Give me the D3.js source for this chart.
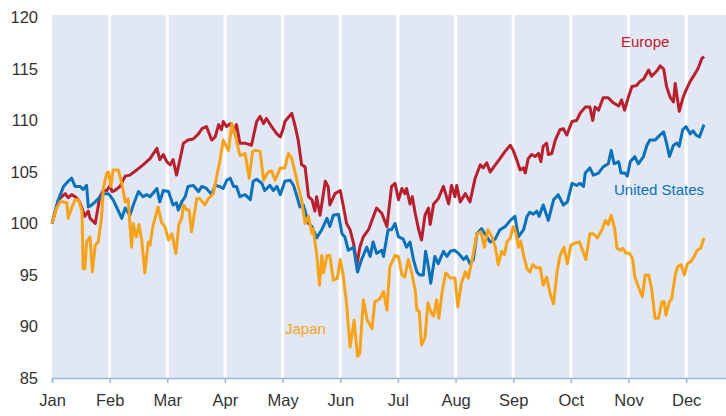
<!DOCTYPE html>
<html>
<head>
<meta charset="utf-8">
<script src="https://cdn.jsdelivr.net/npm/d3@7"></script>
<style>
  body { margin: 0; background: #fff; }
  svg { display: block; font-family: "Liberation Sans", Arial, sans-serif; }
</style>
</head>
<body>
<script>
// month labels, one per tick
const months = ["Jan", "Feb", "Mar", "Apr", "May", "Jun", "Jul", "Aug", "Sep", "Oct", "Nov", "Dec"];
const yTicks = [85, 90, 95, 100, 105, 110, 115, 120];

// [time in months since Jan 1, index value]
const europe = [
  [0,100],[0.11,102.3],[0.23,102.9],[0.28,102.5],[0.34,102.8],[0.40,102.6],[0.46,102.3],[0.52,101.5],
  [0.57,100.7],[0.63,101.2],[0.66,100.5],[0.75,100.0],[0.83,102.6],[0.89,103.2],[0.95,103.2],[1.01,103.7],
  [1.04,103.1],[1.09,103.2],[1.18,103.6],[1.27,104.6],[1.35,104.7],[1.47,105.2],[1.58,105.7],[1.70,106.3],
  [1.82,107.3],[1.87,106.2],[1.93,106.7],[1.99,106.0],[2.05,105.7],[2.10,106.2],[2.16,104.7],[2.22,106.2],
  [2.28,107.8],[2.36,108.1],[2.45,108.2],[2.54,108.7],[2.60,109.2],[2.68,109.4],[2.77,108.1],[2.83,108.4],
  [2.89,109.6],[2.94,109.1],[2.97,109.9],[3.03,109.4],[3.09,109.7],[3.15,108.9],[3.20,109.6],[3.26,107.8],
  [3.35,107.8],[3.46,107.6],[3.55,109.9],[3.61,110.4],[3.67,109.7],[3.72,110.2],[3.81,109.4],[3.90,108.7],
  [3.96,108.4],[4.01,109.2],[4.04,109.9],[4.16,110.7],[4.22,109.4],[4.27,108.1],[4.33,105.7],[4.39,105.5],
  [4.45,102.6],[4.51,102.3],[4.56,101.2],[4.59,102.6],[4.65,100.8],[4.74,104.1],[4.79,103.6],[4.82,101.8],
  [4.91,102.9],[5.00,103.2],[5.05,101.8],[5.11,100.0],[5.17,99.4],[5.23,98.1],[5.29,96.0],[5.34,97.7],
  [5.40,98.7],[5.49,99.4],[5.63,101.5],[5.72,101.0],[5.81,99.7],[5.89,103.6],[5.95,103.9],[6.01,102.3],
  [6.07,103.4],[6.12,102.9],[6.15,103.4],[6.21,101.9],[6.25,102.6],[6.30,101.0],[6.36,99.4],[6.41,98.4],
  [6.47,100.8],[6.53,101.5],[6.56,99.9],[6.62,101.9],[6.70,102.4],[6.79,103.6],[6.88,101.9],[6.93,103.7],
  [6.99,102.6],[7.02,103.7],[7.08,102.1],[7.17,102.9],[7.25,102.1],[7.34,104.4],[7.43,105.7],[7.48,105.4],
  [7.54,105.9],[7.60,105.0],[7.69,105.7],[7.77,106.3],[7.86,107.0],[7.95,107.6],[8.00,107.1],[8.06,106.2],
  [8.12,105.2],[8.18,105.4],[8.21,104.9],[8.26,106.3],[8.32,106.7],[8.38,106.5],[8.44,106.8],[8.48,106.0],
  [8.52,107.5],[8.58,107.8],[8.61,106.7],[8.67,106.8],[8.73,108.1],[8.81,109.1],[8.87,109.2],[8.93,108.6],
  [9.02,109.9],[9.10,110.0],[9.16,110.7],[9.25,111.3],[9.33,111.3],[9.38,110.0],[9.42,111.3],[9.48,111.0],
  [9.56,112.2],[9.65,112.2],[9.74,111.7],[9.83,111.4],[9.88,112.0],[9.93,111.0],[10.00,112.3],[10.06,113.3],
  [10.14,113.4],[10.20,113.8],[10.26,114.0],[10.29,114.3],[10.35,114.9],[10.40,114.3],[10.49,114.8],[10.55,115.3],
  [10.61,115.0],[10.66,113.3],[10.72,112.3],[10.78,111.8],[10.81,113.6],[10.88,110.9],[10.95,112.3],[11.01,113.1],
  [11.07,113.8],[11.16,114.6],[11.21,115.1],[11.27,116.0],[11.31,116.2]
];

const unitedStates = [
  [0,100],[0.11,102.3],[0.20,103.6],[0.28,104.1],[0.34,104.4],[0.40,103.6],[0.49,103.6],[0.54,103.3],
  [0.60,103.7],[0.63,101.6],[0.69,101.8],[0.75,102.1],[0.89,102.9],[0.98,102.9],[1.06,102.3],[1.12,101.6],
  [1.21,100.5],[1.27,101.5],[1.35,100.8],[1.41,101.8],[1.50,103.1],[1.58,102.6],[1.64,102.8],[1.70,102.6],
  [1.82,103.4],[1.87,102.1],[1.93,103.2],[2.02,103.1],[2.10,101.8],[2.16,102.0],[2.19,101.3],[2.25,102.1],
  [2.31,102.6],[2.36,103.6],[2.45,103.7],[2.54,103.1],[2.60,103.6],[2.68,103.4],[2.77,102.8],[2.83,103.7],
  [2.91,103.6],[2.97,103.4],[3.03,104.2],[3.09,104.4],[3.15,103.6],[3.20,103.6],[3.26,102.6],[3.35,102.8],
  [3.44,102.3],[3.49,104.1],[3.55,104.3],[3.64,103.9],[3.69,103.2],[3.78,103.7],[3.84,103.2],[3.90,103.6],
  [3.96,102.8],[4.04,104.1],[4.13,104.2],[4.19,103.7],[4.25,102.6],[4.30,101.6],[4.36,101.8],[4.45,100.0],
  [4.51,99.7],[4.59,98.6],[4.68,99.4],[4.77,100.5],[4.82,99.7],[4.88,100.8],[4.97,100.9],[5.03,99.0],
  [5.08,98.7],[5.14,97.4],[5.23,97.7],[5.30,95.3],[5.37,96.5],[5.46,97.7],[5.52,96.8],[5.57,98.2],
  [5.63,97.1],[5.72,97.4],[5.75,96.8],[5.83,99.4],[5.89,99.4],[5.95,100.0],[6.01,98.7],[6.09,98.5],
  [6.15,97.7],[6.21,98.2],[6.27,96.5],[6.33,95.3],[6.38,95.0],[6.44,95.0],[6.48,97.3],[6.53,95.8],
  [6.57,94.2],[6.64,96.8],[6.70,96.1],[6.79,97.3],[6.85,96.8],[6.91,97.3],[6.98,97.4],[7.05,97.1],
  [7.14,96.5],[7.19,96.8],[7.25,96.1],[7.31,96.5],[7.37,99.0],[7.45,99.5],[7.51,99.0],[7.60,98.2],
  [7.69,98.5],[7.77,99.4],[7.86,99.7],[7.95,100.3],[8.03,100.7],[8.09,98.7],[8.18,99.4],[8.24,100.7],
  [8.29,101.1],[8.35,100.9],[8.41,101.2],[8.45,100.7],[8.52,101.8],[8.61,100.3],[8.70,102.3],[8.78,102.8],
  [8.87,101.8],[8.94,102.1],[9.02,103.9],[9.10,103.7],[9.16,103.9],[9.22,103.6],[9.25,104.9],[9.33,105.4],
  [9.39,104.7],[9.48,104.9],[9.56,105.5],[9.65,105.8],[9.70,107.1],[9.75,105.8],[9.83,106.0],[9.87,104.9],
  [9.94,104.9],[9.98,104.6],[10.03,106.0],[10.11,106.5],[10.17,105.8],[10.26,106.5],[10.32,107.6],[10.37,108.1],
  [10.46,108.1],[10.55,108.6],[10.61,108.9],[10.66,107.8],[10.71,106.5],[10.78,107.6],[10.84,107.8],[10.88,107.5],
  [10.94,109.1],[11.00,109.4],[11.07,108.7],[11.12,109.0],[11.17,108.6],[11.23,108.4],[11.27,109.0],[11.31,109.6]
];

const japan = [
  [0,100],[0.08,101.5],[0.14,102.1],[0.20,102.1],[0.26,102.0],[0.28,100.5],[0.34,101.5],[0.40,102.3],
  [0.46,102.3],[0.52,101.2],[0.54,95.6],[0.57,95.6],[0.60,98.2],[0.66,98.7],[0.70,95.3],[0.75,97.9],
  [0.80,98.2],[0.86,100.6],[0.89,103.4],[0.95,104.9],[0.98,105.0],[1.02,103.6],[1.06,105.2],[1.15,105.2],
  [1.21,103.9],[1.27,102.1],[1.32,102.4],[1.38,97.7],[1.41,100.0],[1.46,98.7],[1.51,99.9],[1.56,98.2],
  [1.61,95.2],[1.67,98.2],[1.70,97.9],[1.75,99.7],[1.80,100.8],[1.84,101.6],[1.90,100.1],[1.96,99.7],
  [2.02,98.4],[2.08,99.0],[2.15,97.1],[2.20,99.9],[2.25,100.5],[2.28,101.8],[2.34,101.3],[2.38,101.3],
  [2.42,99.2],[2.51,102.4],[2.57,102.4],[2.65,101.8],[2.71,102.4],[2.80,102.9],[2.86,104.7],[2.91,106.0],
  [2.97,108.1],[3.06,107.1],[3.12,109.7],[3.19,108.3],[3.26,106.6],[3.35,106.8],[3.42,104.4],[3.48,107.0],
  [3.53,107.1],[3.61,107.0],[3.67,104.2],[3.75,105.0],[3.81,105.1],[3.87,104.2],[3.96,105.4],[4.04,105.4],
  [4.10,106.8],[4.16,106.3],[4.22,104.9],[4.27,103.6],[4.33,102.3],[4.39,100.0],[4.45,100.7],[4.51,99.0],
  [4.53,99.5],[4.59,97.1],[4.64,94.0],[4.68,96.9],[4.71,95.2],[4.77,96.9],[4.82,96.9],[4.88,94.5],
  [4.95,94.7],[5.00,96.5],[5.05,95.0],[5.11,92.2],[5.17,88.0],[5.24,90.6],[5.30,87.1],[5.34,87.4],
  [5.40,92.6],[5.47,90.6],[5.55,89.8],[5.60,92.4],[5.69,92.7],[5.75,93.4],[5.81,91.6],[5.86,95.8],
  [5.95,96.9],[6.01,96.8],[6.07,95.0],[6.12,94.8],[6.18,96.5],[6.24,95.2],[6.30,93.5],[6.33,91.6],
  [6.37,91.5],[6.41,88.2],[6.47,88.9],[6.52,92.3],[6.58,91.3],[6.62,91.0],[6.67,92.6],[6.71,90.8],
  [6.77,93.5],[6.83,95.2],[6.91,94.7],[6.99,94.7],[7.04,91.9],[7.10,94.2],[7.17,95.3],[7.22,94.7],
  [7.29,96.5],[7.37,99.0],[7.44,99.2],[7.50,97.7],[7.56,99.4],[7.63,98.7],[7.69,97.7],[7.74,96.0],
  [7.80,97.3],[7.85,97.0],[7.89,98.2],[7.95,98.6],[8.00,99.7],[8.05,99.0],[8.09,97.7],[8.13,98.3],
  [8.18,96.9],[8.24,95.6],[8.29,95.3],[8.34,96.0],[8.40,95.7],[8.47,95.7],[8.52,94.0],[8.58,94.8],
  [8.64,93.2],[8.70,92.2],[8.76,95.3],[8.81,96.8],[8.88,97.7],[8.94,96.1],[9.00,97.9],[9.07,98.1],
  [9.15,98.2],[9.21,97.3],[9.26,96.5],[9.33,99.0],[9.39,99.0],[9.46,98.6],[9.54,99.4],[9.60,100.3],
  [9.65,99.9],[9.70,100.8],[9.76,99.5],[9.80,97.6],[9.86,97.4],[9.90,97.6],[9.96,97.1],[10.02,97.1],
  [10.07,96.6],[10.11,94.8],[10.17,93.9],[10.24,92.9],[10.29,95.0],[10.35,95.0],[10.40,93.7],[10.46,90.8],
  [10.52,90.8],[10.58,92.4],[10.62,92.4],[10.65,91.1],[10.71,92.4],[10.75,92.7],[10.81,95.0],[10.85,95.8],
  [10.91,96.0],[10.97,95.0],[11.02,96.1],[11.08,96.3],[11.14,96.8],[11.19,97.4],[11.25,97.6],[11.31,98.6]
];

const series = [
  { name: "Europe", data: europe, color: "#b8202e", label: [621, 47] },
  { name: "United States", data: unitedStates, color: "#0b71b9", label: [614, 195] },
  { name: "Japan", data: japan, color: "#f7a21b", label: [285, 334] }
];

const width = 726;
const height = 416;
const margin = { top: 15, right: 0, bottom: 38, left: 52 };

const svg = d3.select("body")
  .append("svg")
  .attr("width", width)
  .attr("height", height);

const x = d3.scaleLinear().domain([0, 12]).range([52, 52 + 12 * 57.65]);
const y = d3.scaleLinear().domain([85, 120]).range([378, 17.5]);

// plot background
svg.append("rect")
  .attr("x", margin.left)
  .attr("y", margin.top)
  .attr("width", width - margin.left)
  .attr("height", 378 - margin.top)
  .attr("fill", "#e1e8f3");

// white month grid lines
svg.append("g")
  .selectAll("line")
  .data(d3.range(1, 12))
  .join("line")
  .attr("x1", (d) => x(d))
  .attr("x2", (d) => x(d))
  .attr("y1", margin.top)
  .attr("y2", 378)
  .attr("stroke", "#fff")
  .attr("stroke-width", 3);

// x axis
const xAxis = d3.axisBottom(x)
  .tickValues(d3.range(0, 12))
  .tickFormat((d) => months[d])
  .tickSize(5)
  .tickPadding(11);

const gx = svg.append("g")
  .attr("transform", "translate(0,378)")
  .call(xAxis);
gx.select(".domain").attr("stroke", "#9db7da").attr("stroke-width", 1.5);
gx.selectAll(".tick line").attr("stroke", "#9db7da").attr("stroke-width", 1.5);
gx.selectAll("text")
  .attr("fill", "#333")
  .attr("font-size", 16.5)
  .attr("font-family", "Liberation Sans, Arial, sans-serif");

// y axis labels
const yAxis = d3.axisLeft(y)
  .tickValues(yTicks)
  .tickSize(0)
  .tickPadding(14);

const gy = svg.append("g")
  .attr("transform", `translate(${margin.left},0)`)
  .call(yAxis);
gy.select(".domain").remove();
gy.selectAll("text")
  .attr("fill", "#333")
  .attr("font-size", 16.5)
  .attr("font-family", "Liberation Sans, Arial, sans-serif");

// lines
const line = d3.line()
  .x((d) => x(d[0]))
  .y((d) => y(d[1]));

svg.append("g")
  .attr("fill", "none")
  .attr("stroke-width", 3)
  .attr("stroke-linejoin", "round")
  .selectAll("path")
  .data(series)
  .join("path")
  .attr("stroke", (d) => d.color)
  .attr("d", (d) => line(d.data));

// series labels
svg.append("g")
  .selectAll("text")
  .data(series)
  .join("text")
  .attr("x", (d) => d.label[0])
  .attr("y", (d) => d.label[1])
  .attr("fill", (d) => d.color)
  .attr("font-size", 15)
  .text((d) => d.name);
</script>
</body>
</html>
